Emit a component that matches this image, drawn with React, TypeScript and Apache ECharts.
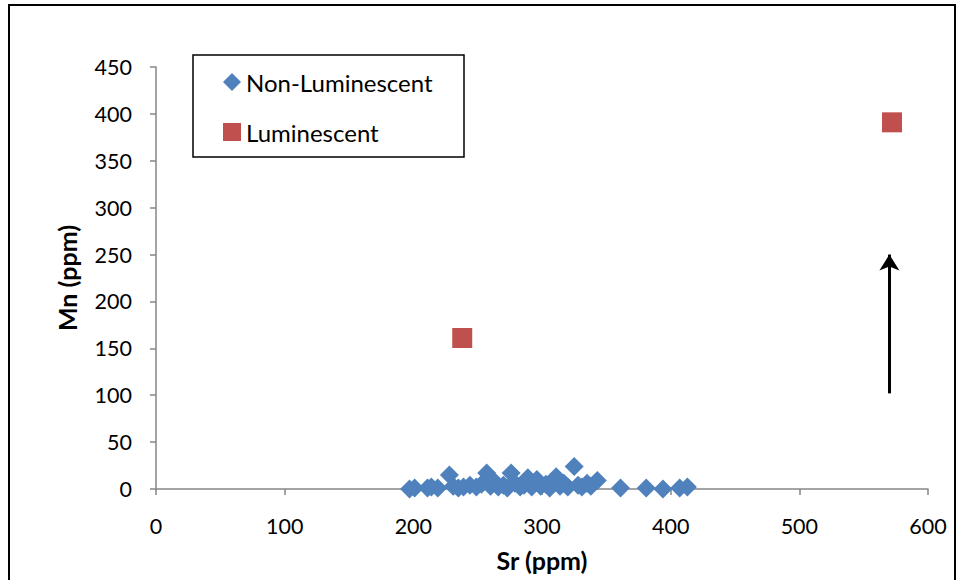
import React, { useEffect, useRef } from "react";
import * as echarts from "echarts";

const nonLumSr = [197, 201, 211, 214, 219, 228, 231, 235, 239, 244, 249, 253, 257, 260, 263, 266, 270, 273, 276, 279, 283, 286, 289, 292, 296, 299, 303, 306, 311, 314, 317, 320, 325, 328, 331, 335, 338, 343, 361, 381, 394, 407, 413];
const nonLumMn = [0, 1, 1, 2, 1, 15, 3, 1, 2, 4, 2, 5, 17, 3, 8, 2, 4, 1, 17, 6, 2, 4, 12, 2, 10, 3, 5, 1, 13, 3, 6, 2, 24, 4, 2, 6, 3, 9, 1, 1, 0, 1, 2];
const lumSr = [238, 572];
const lumMn = [161, 391];
const arrowFrom = [570, 102];
const arrowTo = [570, 250];

const FONT = "Lato";

export default function App() {
  const ref = useRef<HTMLDivElement>(null);
  useEffect(() => {
    if (!ref.current) return;
    const chart = echarts.init(ref.current, undefined, { renderer: "svg" });
    const axisCommon = {
      axisLine: { show: true, lineStyle: { color: "#868686", width: 1.5 } },
      axisTick: { show: true, length: 6, inside: false, lineStyle: { color: "#868686", width: 1.5 } },
      splitLine: { show: false },
      nameLocation: "middle" as const,
      nameTextStyle: { fontFamily: FONT, fontSize: 25, fontWeight: "bold" as const, color: "#000" },
      axisLabel: { fontFamily: FONT, fontSize: 21.5, color: "#000" },
    };
    chart.setOption({
      animation: false,
      backgroundColor: "#fff",
      grid: { left: 156, right: 33, top: 67, bottom: 91, containLabel: false },
      xAxis: {
        ...axisCommon,
        type: "value",
        min: 0,
        max: 600,
        interval: 100,
        name: "Sr (ppm)",
        nameGap: 58,
        axisLabel: { ...axisCommon.axisLabel, margin: 26 },
      },
      yAxis: {
        ...axisCommon,
        type: "value",
        min: 0,
        max: 450,
        interval: 50,
        name: "Mn (ppm)",
        nameGap: 77,
        axisLabel: { ...axisCommon.axisLabel, margin: 24 },
      },
      legend: {
        orient: "vertical",
        left: 223,
        top: 70,
        padding: 0,
        itemWidth: 18,
        itemHeight: 18,
        itemGap: 26,
        textStyle: { fontFamily: FONT, fontSize: 24, color: "#000", lineHeight: 21 },
        data: ["Non-Luminescent", "Luminescent"],
      },
      graphic: [
        {
          type: "rect",
          shape: { x: 9, y: 5, width: 946, height: 600 },
          style: { fill: "none", stroke: "#000", lineWidth: 2 },
          silent: true,
        },
        {
          type: "rect",
          shape: { x: 193, y: 55, width: 271, height: 102 },
          style: { fill: "none", stroke: "#000", lineWidth: 1.5 },
          silent: true,
        },
      ],
      series: [
        {
          name: "Non-Luminescent",
          type: "scatter",
          symbol: "diamond",
          symbolSize: 19,
          itemStyle: { color: "#4F81BD", opacity: 1 },
          data: nonLumSr.map((x, i) => [x, nonLumMn[i]]),
        },
        {
          name: "Luminescent",
          type: "scatter",
          symbol: "rect",
          symbolSize: 20,
          itemStyle: { color: "#C0504D", opacity: 1 },
          data: lumSr.map((x, i) => [x, lumMn[i]]),
          markLine: {
            silent: true,
            animation: false,
            symbol: ["none", "arrow"],
            symbolSize: [15, 16],
            label: { show: false },
            lineStyle: { color: "#000", width: 3, type: "solid" },
            data: [[{ coord: arrowFrom }, { coord: arrowTo }]],
          },
        },
      ],
    });
    return () => chart.dispose();
  }, []);
  return (
    <div
      ref={ref}
      style={{ position: "absolute", left: 0, top: 0, width: 961, height: 580 }}
    />
  );
}
